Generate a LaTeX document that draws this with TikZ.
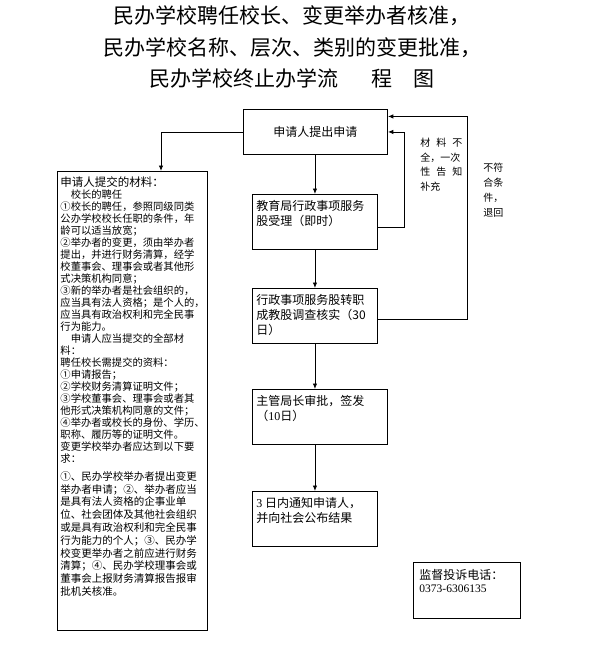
\documentclass[tikz,border=0pt]{standalone}
\usepackage{fontspec}
\setmainfont{Noto Sans CJK SC}
\newfontfamily\tnr{Liberation Serif}
\usetikzlibrary{arrows.meta}
\newcommand{\boxtext}[2]{\parbox[c][43pt][t]{#1}{#2}}

\begin{document}
\begin{tikzpicture}[x=1pt,y=-1pt,line width=0.9pt,>={Latex[length=5.5pt,width=4.5pt]},
        stepbox/.style={draw,anchor=north west,inner xsep=4pt,inner ysep=6pt,font=\fontsize{12}{15}\selectfont},
        note/.style={anchor=north west,inner sep=0pt,align=left,font=\fontsize{10}{14.5}\selectfont}]
    \useasboundingbox (0,0) rectangle (596,650);
    \node[align=center,inner sep=0pt,font=\fontsize{21}{31.5}\selectfont] (title) at (292,47)
        {民办学校聘任校长、变更举办者核准，\\民办学校名称、层次、类别的变更批准，\\民办学校终止办学流\hspace{1.6em}程\hspace{1em}图};
    % flow boxes
    \node[draw,anchor=north west,minimum width=144pt,minimum height=45pt,font=\fontsize{12}{15}\selectfont] (apply) at (243,109) {申请人提出申请};
    \node[stepbox] (accept) at (252,194) {\boxtext{117pt}{教育局行政事项服务\\股受理（即时）}};
    \node[stepbox] (verify) at (252,288) {\boxtext{117pt}{行政事项服务股转职\\成教股调查核实（30\\日）}};
    \node[stepbox] (approve) at (252,389) {\boxtext{127pt}{主管局长审批，签发\\（{\tnr 10}日）}};
    \node[stepbox] (notify) at (252,491) {\boxtext{117pt}{{\tnr 3} 日内通知申请人，\\并向社会公布结果}};
    % materials list
    \node[draw,anchor=north west,inner xsep=3pt,inner ysep=5pt] (materials) at (57,171) {\parbox[c][449pt][t]{144pt}{%
        {\fontsize{11.5}{14}\selectfont 申请人提交的材料：\par}
        {\fontsize{10.3}{12}\selectfont
        　校长的聘任\\
        ①校长的聘任，参照同级同类\\
        公办学校校长任职的条件，年\\
        龄可以适当放宽；\\
        ②举办者的变更，须由举办者\\
        提出，并进行财务清算，经学\\
        校董事会、理事会或者其他形\\
        式决策机构同意；\\
        ③新的举办者是社会组织的，\\
        应当具有法人资格；是个人的，\\
        应当具有政治权利和完全民事\\
        行为能力。\\
        　申请人应当提交的全部材\\
        料：\\
        聘任校长需提交的资料：\\
        ①申请报告；\\
        ②学校财务清算证明文件；\\
        ③学校董事会、理事会或者其\\
        他形式决策机构同意的文件；\\
        ④举办者或校长的身份、学历、\\
        职称、履历等的证明文件。\\
        变更学校举办者应达到以下要\\
        求：\par}
        \vspace{5.2pt}
        {\fontsize{10.5}{12.8}\selectfont
        ①、民办学校举办者提出变更\\
        举办者申请；②、举办者应当\\
        是具有法人资格的企事业单\\
        位、社会团体及其他社会组织\\
        或是具有政治权利和完全民事\\
        行为能力的个人；③、民办学\\
        校变更举办者之前应进行财务\\
        清算；④、民办学校理事会或\\
        董事会上报财务清算报告报审\\
        批机关核准。\par}}};
    % side notes
    \node[note] (incomplete) at (420,138) {材\hspace{6pt}料\hspace{6pt}不\\全，一次\\性\hspace{6pt}告\hspace{6pt}知\\补充};
    \node[note,font=\fontsize{10}{15}\selectfont] (rejected) at (483,163) {不符\\合条\\件，\\退回};
    \node[draw,anchor=north west,inner xsep=6pt,inner ysep=7pt] (hotline) at (413,562)
        {\parbox[c][42pt][t]{95pt}{\fontsize{12}{13}\selectfont 监督投诉电话：\\{\tnr\fontsize{11.5}{13}\selectfont 0373-6306135}}};
    % connectors
    \foreach \a/\b in {apply/accept,accept/verify,verify/approve,approve/notify}
        \draw[->] (\a.south -| verify.north) -- (\b.north -| verify.north);
    \draw[->] (apply.west) -| ([xshift=104pt]materials.north west);
    \draw[->] ([yshift=-5.5pt]accept.east) -| ([xshift=17pt]apply.east) -- (apply.east);
    \draw[->] ([yshift=-3.5pt]verify.east) -| ([xshift=80pt,yshift=15.5pt]apply.east) -- ([yshift=15.5pt]apply.east);
\end{tikzpicture}
\end{document}
